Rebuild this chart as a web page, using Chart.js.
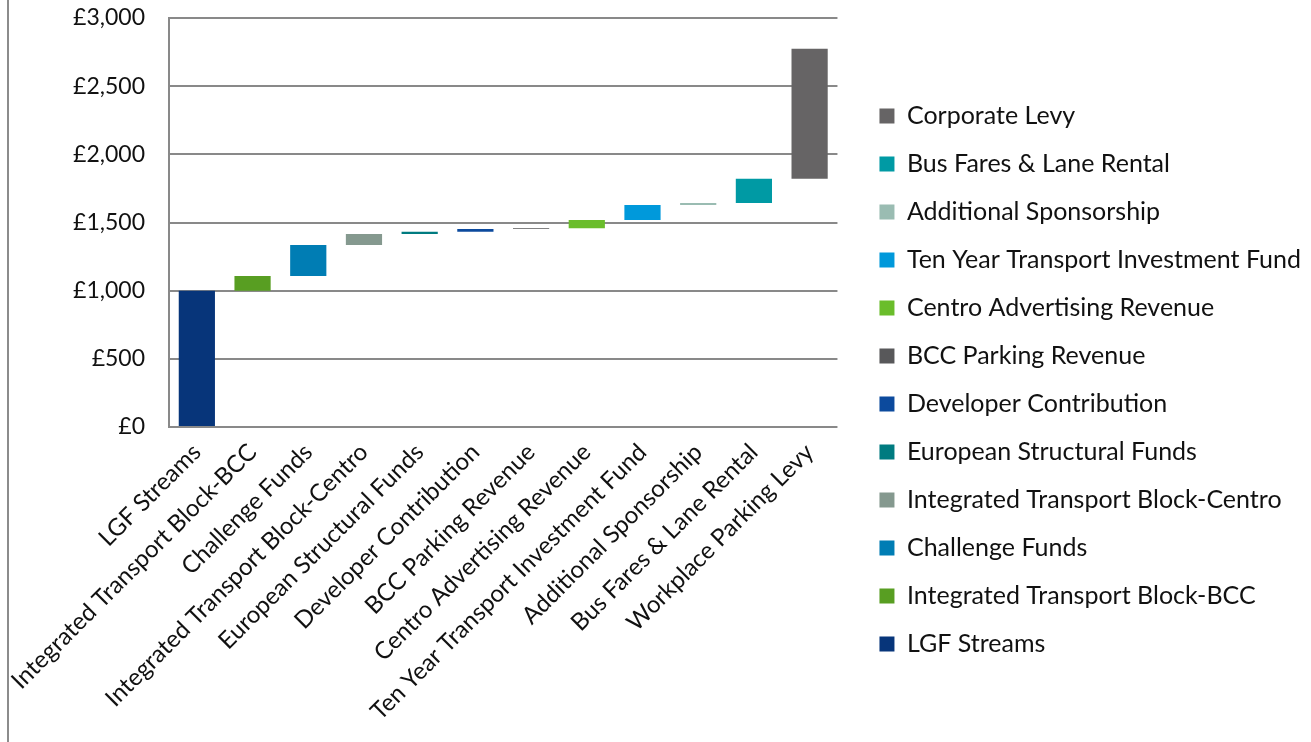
<!DOCTYPE html>
<html>
<head>
<meta charset="utf-8">
<script src="https://cdn.jsdelivr.net/npm/chart.js@4.4.1/dist/chart.umd.min.js"></script>
<style>
  html, body { margin: 0; padding: 0; background: #fff; }
  #wrap {
    position: absolute; left: 7px; top: 0;
    width: 1302px; height: 742px;
    border-left: 2px solid #8c8c8c;
  }
  #wrap canvas { display: block; }
</style>
</head>
<body>
<div id="wrap"><canvas id="waterfall"></canvas></div>
<script>
// ── Data (£) ─────────────────────────────────────────────────
const categories = [
  'LGF Streams', 'Integrated Transport Block-BCC', 'Challenge Funds',
  'Integrated Transport Block-Centro', 'European Structural Funds',
  'Developer Contribution', 'BCC Parking Revenue', 'Centro Advertising Revenue',
  'Ten Year Transport Investment Fund', 'Additional Sponsorship',
  'Bus Fares & Lane Rental', 'Workplace Parking Levy'
];
// legend names (the last one is named differently in the source)
const seriesNames = [
  'LGF Streams', 'Integrated Transport Block-BCC', 'Challenge Funds',
  'Integrated Transport Block-Centro', 'European Structural Funds',
  'Developer Contribution', 'BCC Parking Revenue', 'Centro Advertising Revenue',
  'Ten Year Transport Investment Fund', 'Additional Sponsorship',
  'Bus Fares & Lane Rental', 'Corporate Levy'
];
const barStart = [0,    1000, 1107, 1335, 1416, 1432, 1452, 1457, 1518, 1628, 1643, 1820];
const barEnd   = [1000, 1107, 1335, 1416, 1432, 1452, 1457, 1518, 1628, 1643, 1820, 2775];

const COLORS = [
  '#07357a', '#589e22', '#007db4', '#85998f', '#007b80', '#0c4a9d',
  '#58585a', '#6abd2b', '#0099db', '#9abcb2', '#009aa4', '#666465'
];

const FONT = 'Lato, "Open Sans", sans-serif';
const AXIS_GREY = '#898989';

// one dataset per stream so each gets its own legend entry
const datasets = seriesNames.map((name, i) => ({
  label: name,
  data: categories.map((c, j) => j === i ? [barStart[i], barEnd[i]] : null),
  backgroundColor: COLORS[i],
  borderWidth: 0,
}));

new Chart(document.getElementById('waterfall'), {
  type: 'bar',
  data: { labels: categories, datasets },
  options: {
    responsive: true,
    maintainAspectRatio: false,
    animation: false,
    datasets: { bar: { grouped: false, barPercentage: 0.65, categoryPercentage: 1.0 } },
    layout: { padding: { top: 18, right: 0, left: 0, bottom: 0 } },
    plugins: {
      tooltip: { enabled: false },
      legend: {
        position: 'right',
        reverse: true,
        maxWidth: 455,
        labels: {
          color: '#111',
          font: { family: FONT, size: 25 },
          boxWidth: 15,
          boxHeight: 15,
          padding: 23,
        }
      }
    },
    scales: {
      x: {
        grid: { display: false },
        border: { display: false },
        ticks: {
          color: '#111',
          font: { family: FONT, size: 24 },
          minRotation: 45,
          maxRotation: 45,
          autoSkip: false,
          padding: 3,
        },
        afterFit: s => { s.height = 315; }
      },
      y: {
        min: 0,
        max: 3000,
        ticks: {
          stepSize: 500,
          color: '#111',
          font: { family: FONT, size: 23 },
          padding: 24,
          callback: v => '£' + v.toLocaleString('en-GB'),
        },
        grid: { color: AXIS_GREY, lineWidth: 2, drawTicks: false },
        border: { color: AXIS_GREY, width: 2 },
        afterFit: s => { s.width = 160; s.paddingTop = 0; s.paddingBottom = 0; }
      },
      // empty spacer between plot and legend
      gap: {
        axis: 'y',
        position: 'right',
        grid: { display: false },
        border: { display: false },
        ticks: { display: false },
        afterFit: s => { s.width = 19; }
      }
    }
  }
});
</script>
</body>
</html>
